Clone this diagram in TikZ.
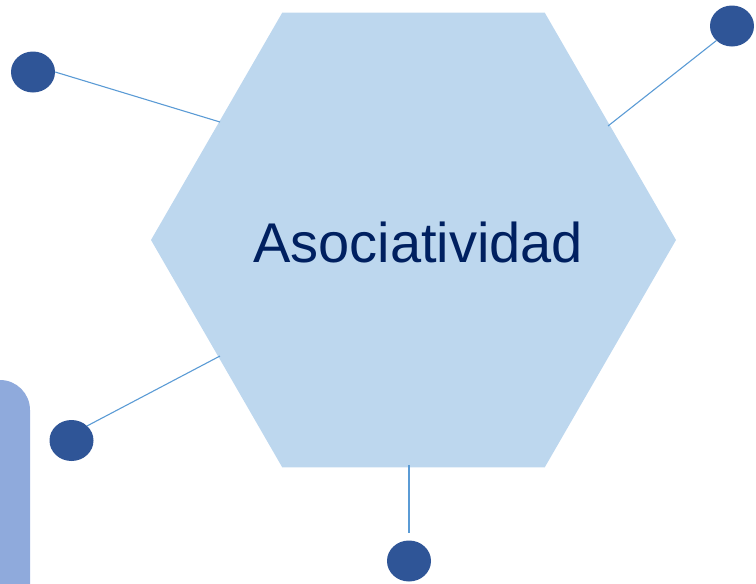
\documentclass[tikz,border=0pt]{standalone}
\usepackage{fontspec}
\setmainfont{Liberation Sans}
\usetikzlibrary{shapes.geometric}
\definecolor{hexfill}{HTML}{BDD7EE}
\definecolor{dotblue}{HTML}{2F5597}
\definecolor{linkblue}{HTML}{5B9BD5}
\definecolor{barblue}{HTML}{8FAADC}
\definecolor{textnavy}{HTML}{002060}
\tikzset{
  dot/.style={ellipse, fill=dotblue, minimum width=44pt, minimum height=41pt, inner sep=0pt},
  link/.style={draw=linkblue, line width=1.1pt}
}
\begin{document}
\begin{tikzpicture}[x=1pt, y=-1pt]
        \useasboundingbox (0, 0) rectangle (756, 584);
        \fill [barblue, rounded corners=30pt] (-40, 380) rectangle (30, 640);
        \node [regular polygon, regular polygon sides=6, minimum size=525pt, inner sep=0pt, fill=hexfill] (hex) at (413.5, 240) {};
        \node [anchor=base west, inner sep=0pt, text=textnavy, font=\fontsize{56}{60}\selectfont] (lbl) at (253, 262) {Asociatividad};
        \node [dot] (c1) at (33, 72) {};
        \node [dot] (c2) at (732, 26) {};
        \node [dot] (c3) at (71.5, 440.5) {};
        \node [dot] (c4) at (409, 561) {};
        \coordinate (e1) at (220, 122);
        \coordinate (e2) at (608, 126);
        \coordinate (e3) at (220, 356);
        \coordinate (e4) at (409, 465);
        \draw [link] (c1.east) -- (e1);
        \draw [link] (e2) -- (c2.south west);
        \draw [link] (c3.north east) -- (e3);
        \draw [link, shorten >=7pt] (e4) -- (c4.north);
\end{tikzpicture}
\end{document}
